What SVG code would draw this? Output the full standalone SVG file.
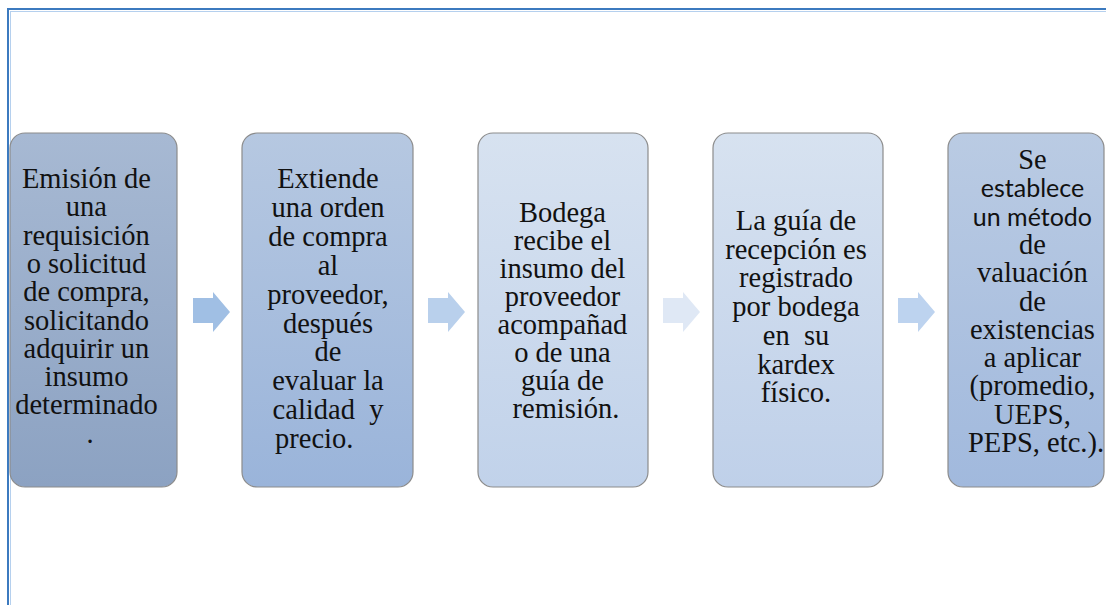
<svg xmlns="http://www.w3.org/2000/svg" width="1106" height="605" viewBox="0 0 1106 605">
  <defs>
    <linearGradient id="g1" x1="0" y1="0" x2="0" y2="1">
      <stop offset="0" stop-color="#a7b9d3"/>
      <stop offset="1" stop-color="#8ca2c2"/>
    </linearGradient>
    <linearGradient id="g2" x1="0" y1="0" x2="0" y2="1">
      <stop offset="0" stop-color="#b6c8e1"/>
      <stop offset="1" stop-color="#9ab4da"/>
    </linearGradient>
    <linearGradient id="g3" x1="0" y1="0" x2="0" y2="1">
      <stop offset="0" stop-color="#d7e2f0"/>
      <stop offset="1" stop-color="#c1d2ea"/>
    </linearGradient>
    <linearGradient id="g4" x1="0" y1="0" x2="0" y2="1">
      <stop offset="0" stop-color="#d7e2f0"/>
      <stop offset="1" stop-color="#bfd0e9"/>
    </linearGradient>
    <linearGradient id="g5" x1="0" y1="0" x2="0" y2="1">
      <stop offset="0" stop-color="#bacbe3"/>
      <stop offset="1" stop-color="#a1b9dd"/>
    </linearGradient>
    <path id="arrow" d="M0,6 H20 V0 L37,20 L20,40 V31 H0 Z"/>
  </defs>
  <style>
    .box { stroke: #8c8c8c; stroke-width: 1.2; }
    .t { font-family: "Liberation Serif", "Times New Roman", serif; font-size: 28.5px; fill: #111; text-anchor: middle; }
    .s { font-family: Lato, "Open Sans", sans-serif; font-size: 25px; }
  </style>
  <rect width="1106" height="605" fill="#ffffff"/>
  <g id="frame">
    <rect x="8" y="9" width="1200" height="700" fill="none" stroke="#3c7abf" stroke-width="2"/>
    <rect x="10.5" y="11.5" width="1200" height="700" fill="none" stroke="#b5d0ee" stroke-width="1"/>
  </g>
  <g id="connectors">
    <use href="#arrow" x="193" y="292" fill="#a0bfe4"/>
    <use href="#arrow" x="428" y="292" fill="#b9d0ec"/>
    <use href="#arrow" x="663" y="292" fill="#dfe8f5"/>
    <use href="#arrow" x="898" y="292" fill="#bdd3ef"/>
  </g>
  <g id="node1">
    <rect class="box" x="10" y="133" width="167" height="354" rx="15" fill="url(#g1)"/>
    <text class="t" x="90" y="188">
      <tspan x="90" dy="0">Emisión de</tspan>
      <tspan x="90" dy="28.3">una</tspan>
      <tspan x="90" dy="28.3">requisición</tspan>
      <tspan x="90" dy="28.3">o solicitud</tspan>
      <tspan x="90" dy="28.3">de compra,</tspan>
      <tspan x="90" dy="28.3">solicitando</tspan>
      <tspan x="90" dy="28.3">adquirir un</tspan>
      <tspan x="90" dy="28.3">insumo</tspan>
      <tspan x="90" dy="28.3">determinado</tspan>
      <tspan x="90" dy="28.3">.</tspan>
    </text>
  </g>
  <g id="node2">
    <rect class="box" x="242" y="133" width="171" height="354" rx="15" fill="url(#g2)"/>
    <text class="t" x="328" y="188" xml:space="preserve"><tspan x="328" dy="0">Extiende</tspan><tspan x="328" dy="28.9">una orden</tspan><tspan x="328" dy="28.9">de compra</tspan><tspan x="328" dy="28.9">al</tspan><tspan x="328" dy="28.9">proveedor,</tspan><tspan x="328" dy="28.9">después</tspan><tspan x="328" dy="28.9">de</tspan><tspan x="328" dy="28.9">evaluar la</tspan><tspan x="328" dy="28.9">calidad  y</tspan><tspan x="275" dy="28.9" text-anchor="start">precio.</tspan></text>
  </g>
  <g id="node3">
    <rect class="box" x="478" y="133" width="170" height="354" rx="15" fill="url(#g3)"/>
    <text class="t" x="566" y="222">
      <tspan x="566" dy="0">Bodega</tspan>
      <tspan x="566" dy="28">recibe el</tspan>
      <tspan x="566" dy="28">insumo del</tspan>
      <tspan x="566" dy="28">proveedor</tspan>
      <tspan x="566" dy="28">acompañad</tspan>
      <tspan x="566" dy="28">o de una</tspan>
      <tspan x="566" dy="28">guía de</tspan>
      <tspan x="566" dy="28">remisión.</tspan>
    </text>
  </g>
  <g id="node4">
    <rect class="box" x="713" y="133" width="170" height="354" rx="15" fill="url(#g4)"/>
    <text class="t" x="796" y="230" xml:space="preserve"><tspan x="796" dy="0">La guía de</tspan><tspan x="796" dy="28.7">recepción es</tspan><tspan x="796" dy="28.7">registrado</tspan><tspan x="796" dy="28.7">por bodega</tspan><tspan x="796" dy="28.7">en  su</tspan><tspan x="796" dy="28.7">kardex</tspan><tspan x="796" dy="28.7">físico.</tspan></text>
  </g>
  <g id="node5">
    <rect class="box" x="948" y="133" width="156" height="354" rx="15" fill="url(#g5)"/>
    <text class="t" x="1036" y="169">
      <tspan x="1036" dy="0">Se</tspan>
      <tspan x="1036" dy="28.3" class="s">establece</tspan>
      <tspan x="1036" dy="28.3" class="s">un método</tspan>
      <tspan x="1036" dy="28.3">de</tspan>
      <tspan x="1036" dy="28.3">valuación</tspan>
      <tspan x="1036" dy="28.3">de</tspan>
      <tspan x="1036" dy="28.3">existencias</tspan>
      <tspan x="1036" dy="28.3">a aplicar</tspan>
      <tspan x="1036" dy="28.3">(promedio,</tspan>
      <tspan x="1036" dy="28.3">UEPS,</tspan>
      <tspan x="1036" dy="28.3">PEPS, etc.).</tspan>
    </text>
  </g>
</svg>
